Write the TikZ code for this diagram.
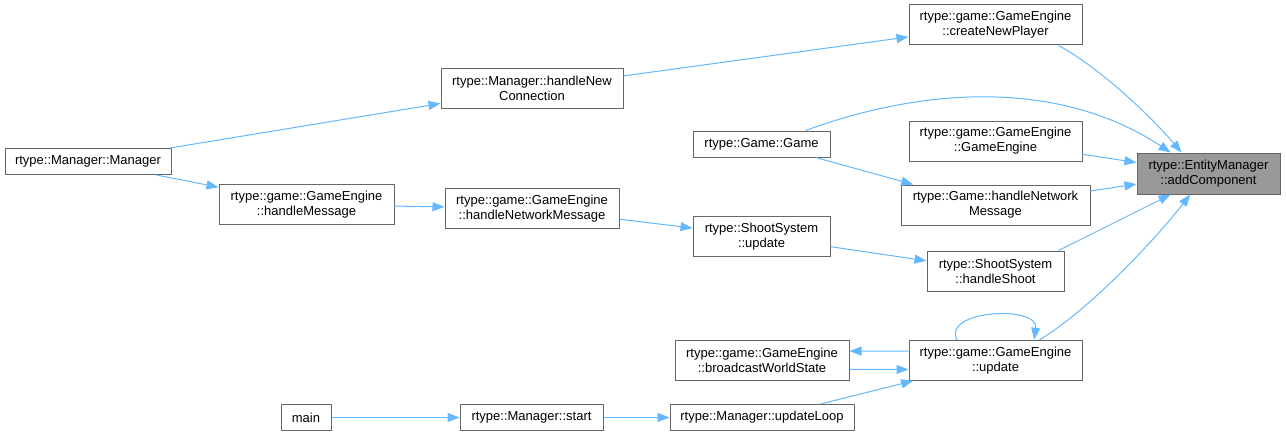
\documentclass[tikz,border=0pt]{standalone}
\usepackage{fontspec}
\setmainfont{Liberation Sans}
\usetikzlibrary{arrows.meta}
\definecolor{edgeColor}{HTML}{63B8FF}
\definecolor{borderColor}{HTML}{666666}
\definecolor{rootColor}{HTML}{999999}
\tikzstyle{callGraph} = [x = 1pt, y = -1pt]
\tikzstyle{funcNode} = [draw=borderColor, fill=white, line width=1pt, inner sep=0pt, align=center, font=\fontsize{13}{15}\selectfont]
\tikzstyle{rootNode} = [funcNode, fill=rootColor]
\tikzstyle{callEdge} = [color=edgeColor, line width=1pt, -{Triangle[length=12pt, width=9pt]}]
\newcommand{\callNode}[7][funcNode]{\node [#1, minimum width=#5pt, minimum height=#6pt] (#2) at (#3,#4) {#7};}

\begin{document}
\begin{tikzpicture}[callGraph]
\useasboundingbox (0,0) rectangle (1286,436);
% functions, one column after another
\callNode{managerCtor}{88}{161.5}{166}{26}{rtype::Manager::Manager}
\callNode{handleNewConnection}{532}{88.5}{182}{40}{rtype::Manager::handleNew\\Connection}
\callNode{handleMessage}{306.5}{204.5}{175}{40}{rtype::game::GameEngine\\::handleMessage}
\callNode{engineNetMsg}{532}{208.5}{174}{40}{rtype::game::GameEngine\\::handleNetworkMessage}
\callNode{mainFunc}{306}{417.5}{50}{26}{main}
\callNode{managerStart}{531.5}{417.5}{143}{26}{rtype::Manager::start}
\callNode{gameCtor}{761.5}{144}{137}{26}{rtype::Game::Game}
\callNode{shootUpdate}{761.5}{236.5}{137}{40}{rtype::ShootSystem\\::update}
\callNode{broadcastState}{762}{360.3}{174}{40}{rtype::game::GameEngine\\::broadcastWorldState}
\callNode{updateLoop}{762}{417.5}{184}{26}{rtype::Manager::updateLoop}
\callNode{createNewPlayer}{995.5}{25}{173}{40}{rtype::game::GameEngine\\::createNewPlayer}
\callNode{engineCtor}{995.5}{141}{173}{40}{rtype::game::GameEngine\\::GameEngine}
\callNode{gameNetMsg}{995.5}{205}{189}{40}{rtype::Game::handleNetwork\\Message}
\callNode{handleShoot}{995.5}{271}{137}{40}{rtype::ShootSystem\\::handleShoot}
\callNode{engineUpdate}{995.5}{360.3}{173}{40}{rtype::game::GameEngine\\::update}
\callNode[rootNode]{addComponent}{1208.5}{173.5}{143}{41}{rtype::EntityManager\\::addComponent}
% calls
\draw [callEdge] (managerCtor) -- (handleNewConnection);
\draw [callEdge] (managerCtor) -- (handleMessage);
\draw [callEdge] (handleNewConnection) -- (createNewPlayer);
\draw [callEdge] (handleMessage) -- (engineNetMsg);
\draw [callEdge] (engineNetMsg) -- (shootUpdate);
\draw [callEdge] (shootUpdate) -- (handleShoot);
\draw [callEdge] (gameCtor.-14) -- (gameNetMsg.166);
\draw [callEdge] (mainFunc) -- (managerStart);
\draw [callEdge] (managerStart) -- (updateLoop);
\draw [callEdge] (updateLoop.13) -- (engineUpdate.-166);
\draw [callEdge] (engineUpdate.174) -- (broadcastState.6);
\draw [callEdge] (broadcastState.-6) -- (engineUpdate.-174);
\draw [callEdge] (engineUpdate.152) .. controls +(-15,-30) and +(5,-35) .. (engineUpdate.28);
% calls into the root
\draw [callEdge] (createNewPlayer.-18) .. controls +(45,25) and +(-30,-35) .. (addComponent.142);
\draw [callEdge] (gameCtor.17) .. controls +(117,-43) and +(-112,-74) .. (addComponent.151);
\draw [callEdge] (engineCtor) -- (addComponent);
\draw [callEdge] (gameNetMsg) -- (addComponent);
\draw [callEdge] (handleShoot.18) -- (addComponent.-151);
\draw [callEdge] (engineUpdate.25) .. controls +(50,-30) and +(-35,45) .. (addComponent.-131);
\end{tikzpicture}
\end{document}
